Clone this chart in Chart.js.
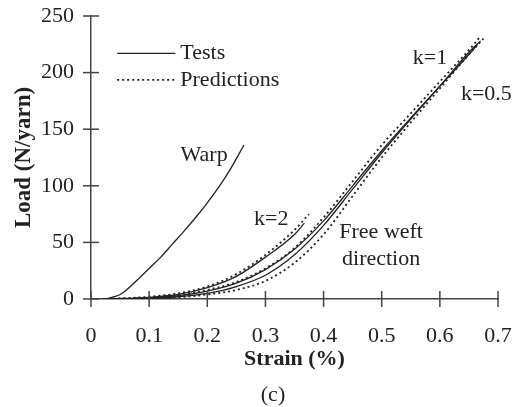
<!DOCTYPE html>
<html>
<head>
<meta charset="utf-8">
<script src="https://cdn.jsdelivr.net/npm/chart.js@4.4.1/dist/chart.umd.min.js"></script>
<style>
html, body { margin: 0; padding: 0; background: #fff; }
#wrap { width: 521px; height: 407px; }
</style>
</head>
<body>
<div id="wrap"><canvas id="loadChart" width="521" height="407"></canvas></div>
<script>
// strain (%) vs load (N/yarn)
const warpStrain = [0.02, 0.03, 0.04, 0.05, 0.06, 0.08, 0.10, 0.12, 0.14, 0.16, 0.18, 0.20, 0.22, 0.24, 0.263];
const warpLoad   = [0, 0.5, 2, 4, 7.5, 17, 27, 37, 48.5, 60, 72, 85, 99, 115, 136];

const testStrainA = [0.03, 0.10, 0.15, 0.20, 0.25, 0.30, 0.35, 0.367];
const testLoadA   = [0, 1.5, 4, 10, 20, 37, 57, 67];
const testStrainB = [0.03, 0.10, 0.15, 0.20, 0.25, 0.30, 0.35, 0.40, 0.45, 0.50, 0.55, 0.60, 0.65, 0.665];
const testLoadB   = [0, 1, 3, 7, 14, 26, 44, 69, 100, 131, 160, 188, 216, 225];
const testStrainC = [0.03, 0.10, 0.15, 0.20, 0.25, 0.30, 0.35, 0.40, 0.45, 0.50, 0.55, 0.60, 0.65, 0.67];
const testLoadC   = [0, 0.5, 2, 5, 11, 21, 39, 65, 97, 129, 159, 188, 218, 228];

const predStrainK2  = [0.03, 0.10, 0.15, 0.20, 0.25, 0.30, 0.35, 0.375];
const predLoadK2    = [0, 2, 5, 11, 22, 39, 61, 75];
const predStrainK1  = [0.03, 0.10, 0.15, 0.20, 0.25, 0.30, 0.35, 0.40, 0.45, 0.50, 0.55, 0.60, 0.65, 0.67];
const predLoadK1    = [0, 1, 3, 8, 15, 27, 45, 72, 104, 136, 164, 192, 220, 232];
const predStrainK05 = [0.03, 0.10, 0.15, 0.20, 0.25, 0.30, 0.35, 0.40, 0.45, 0.50, 0.55, 0.60, 0.65, 0.675];
const predLoadK05   = [0, 0.5, 1.5, 4, 8, 16, 32, 57, 91, 125, 156, 186, 216, 230];

const xTicks = [0, 0.1, 0.2, 0.3, 0.4, 0.5, 0.6, 0.7];
const xTickLabels = ['0', '0.1', '0.2', '0.3', '0.4', '0.5', '0.6', '0.7'];
const yTicks = [0, 50, 100, 150, 200, 250];

const ink = '#222';
const textColor = '#222';
const serif = "'Liberation Serif', 'DejaVu Serif', serif";

function pts(xs, ys) {
    return xs.map((x, i) => ({ x: x, y: ys[i] }));
}

function curve(label, xs, ys, dashed) {
    return {
        label: label,
        data: pts(xs, ys),
        borderColor: ink,
        borderWidth: dashed ? 1.8 : 1.3,
        borderDash: dashed ? [2, 3] : [],
        pointRadius: 0,
        fill: false,
        cubicInterpolationMode: 'monotone'
    };
}

// labels placed at data coordinates
const notes = [
    { text: 'Warp', x: 0.1945, y: 127 },
    { text: 'k=2', x: 0.31, y: 70.5 },
    { text: 'Free weft', x: 0.499, y: 59 },
    { text: 'direction', x: 0.499, y: 35.5 },
    { text: 'k=1', x: 0.583, y: 213 },
    { text: 'k=0.5', x: 0.68, y: 181 }
];

function noPad(s) {
    s.paddingTop = 0;
    s.paddingBottom = 0;
    s.paddingLeft = 0;
    s.paddingRight = 0;
}

const decorPlugin = {
    id: 'decor',
    afterDraw(chart) {
        const ctx = chart.ctx;
        const xs = chart.scales.x;
        const ys = chart.scales.y;
        ctx.save();
        // ticks crossing the axes
        ctx.strokeStyle = '#444';
        ctx.lineWidth = 1.5;
        xTicks.forEach(v => {
            const px = xs.getPixelForValue(v);
            ctx.beginPath();
            ctx.moveTo(px, ys.bottom - 8);
            ctx.lineTo(px, ys.bottom + 8);
            ctx.stroke();
        });
        yTicks.forEach(v => {
            const py = ys.getPixelForValue(v);
            ctx.beginPath();
            ctx.moveTo(xs.left - 8, py);
            ctx.lineTo(xs.left + 8, py);
            ctx.stroke();
        });

        ctx.fillStyle = textColor;
        ctx.font = '22px ' + serif;
        ctx.textAlign = 'center';
        ctx.textBaseline = 'middle';
        notes.forEach(n => {
            ctx.fillText(n.text, xs.getPixelForValue(n.x), ys.getPixelForValue(n.y));
        });

        // legend
        const lx0 = xs.getPixelForValue(0.045);
        const lx1 = xs.getPixelForValue(0.145);
        const ly1 = ys.getPixelForValue(217);
        const ly2 = ys.getPixelForValue(193.5);
        ctx.strokeStyle = ink;
        ctx.lineWidth = 1.3;
        ctx.beginPath();
        ctx.moveTo(lx0, ly1);
        ctx.lineTo(lx1, ly1);
        ctx.stroke();
        ctx.lineWidth = 1.8;
        ctx.setLineDash([2, 3]);
        ctx.beginPath();
        ctx.moveTo(lx0, ly2);
        ctx.lineTo(lx1, ly2);
        ctx.stroke();
        ctx.setLineDash([]);
        ctx.textAlign = 'left';
        ctx.fillText('Tests', lx1 + 5, ly1);
        ctx.fillText('Predictions', lx1 + 5, ly2);

        ctx.textAlign = 'center';
        ctx.fillText('(c)', 273, 395);
        ctx.restore();
    }
};

const ctx = document.getElementById('loadChart').getContext('2d');
new Chart(ctx, {
    type: 'line',
    data: {
        datasets: [
            curve('Warp', warpStrain, warpLoad, false),
            curve('Test A', testStrainA, testLoadA, false),
            curve('Test B', testStrainB, testLoadB, false),
            curve('Test C', testStrainC, testLoadC, false),
            curve('k=2', predStrainK2, predLoadK2, true),
            curve('k=1', predStrainK1, predLoadK1, true),
            curve('k=0.5', predStrainK05, predLoadK05, true)
        ]
    },
    options: {
        responsive: false,
        animation: false,
        layout: { padding: { left: 0, right: 23, top: 16, bottom: 0 } },
        plugins: {
            legend: { display: false },
            tooltip: { enabled: false }
        },
        scales: {
            x: {
                type: 'linear',
                min: 0,
                max: 0.7,
                afterFit: s => { s.height = 108; noPad(s); },
                afterBuildTicks: s => { s.ticks = xTicks.map(v => ({ value: v })); },
                grid: { display: false, drawTicks: false },
                border: { display: true, color: '#444', width: 1.5 },
                ticks: {
                    padding: 24,
                    color: textColor,
                    font: { family: serif, size: 22 },
                    maxRotation: 0,
                    callback: (v, i) => xTickLabels[i]
                },
                title: {
                    display: true,
                    text: 'Strain (%)',
                    color: ink,
                    font: { family: serif, size: 22, weight: 'bold' },
                    padding: { top: 0, bottom: 34 }
                }
            },
            y: {
                type: 'linear',
                min: 0,
                max: 250,
                afterFit: s => { s.width = 91; noPad(s); },
                afterBuildTicks: s => { s.ticks = yTicks.map(v => ({ value: v })); },
                grid: { display: false, drawTicks: false },
                border: { display: true, color: '#444', width: 1.5 },
                ticks: {
                    padding: 17,
                    color: textColor,
                    font: { family: serif, size: 22 }
                },
                title: {
                    display: true,
                    text: 'Load (N/yarn)',
                    color: ink,
                    font: { family: serif, size: 23, weight: 'bold' },
                    padding: { top: 10, bottom: 0 }
                }
            }
        }
    },
    plugins: [decorPlugin]
});
</script>
</body>
</html>
